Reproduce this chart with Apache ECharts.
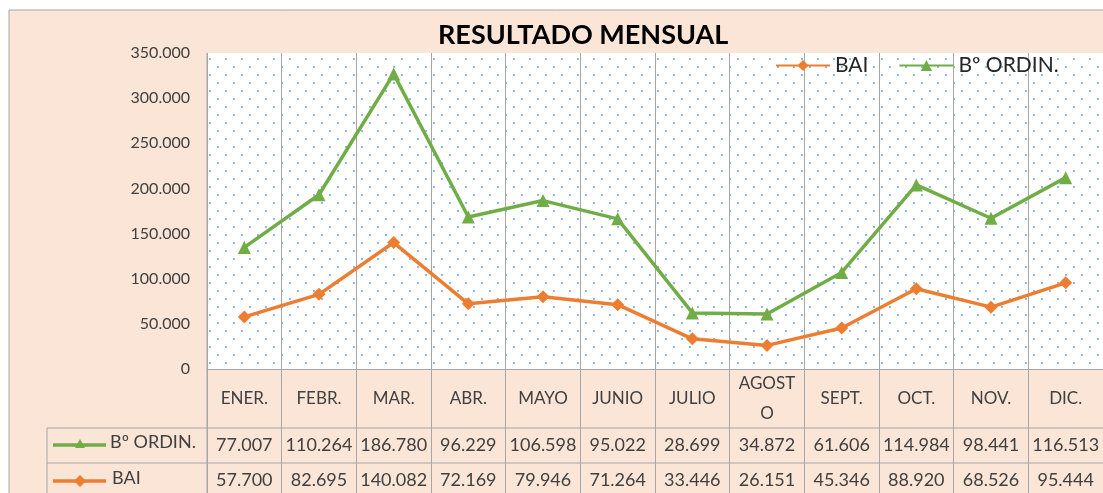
<!DOCTYPE html>
<html>
<head>
<meta charset="utf-8">
<script src="https://cdn.jsdelivr.net/npm/echarts@6/dist/echarts.min.js"></script>
<style>
  html, body { margin: 0; padding: 0; background: #fff; }
  #chart { width: 1103px; height: 493px; }
</style>
</head>
<body>
<div id="chart"></div>
<script>
const months = ['ENER.', 'FEBR.', 'MAR.', 'ABR.', 'MAYO', 'JUNIO', 'JULIO', 'AGOSTO', 'SEPT.', 'OCT.', 'NOV.', 'DIC.'];
const bai = [57700, 82695, 140082, 72169, 79946, 71264, 33446, 26151, 45346, 88920, 68526, 95444];
const ordin = [77007, 110264, 186780, 96229, 106598, 95022, 28699, 34872, 61606, 114984, 98441, 116513];
const yTicks = [0, 50000, 100000, 150000, 200000, 250000, 300000, 350000];

const FONT = 'Lato, "Open Sans", sans-serif';
const ORANGE = '#ED7D31';
const GREEN = '#70AD47';
const TEXT = '#404040';
const LINE = '#a6a6a6';

// thousands with a dot, like the spreadsheet
const fmt = (v) => v === 0 ? '0' : String(v).replace(/\B(?=(\d{3})+(?!\d))/g, '.');

// dotted plot background
const tile = document.createElement('canvas');
tile.width = 16;
tile.height = 16;
const tctx = tile.getContext('2d');
tctx.fillStyle = '#ffffff';
tctx.fillRect(0, 0, 16, 16);
tctx.fillStyle = '#8dbbe8';
tctx.fillRect(9, 2, 2, 2);
tctx.fillRect(1, 10, 2, 2);

const chart = echarts.init(document.getElementById('chart'));

const plotLeft = 207;
const plotTop = 53;
const plotBottom = 369;
const rowA = 428;
const rowB = 463;

chart.setOption({
  backgroundColor: '#fff',
  animation: false,
  textStyle: { fontFamily: FONT },
  title: {
    text: 'RESULTADO MENSUAL',
    left: 438,
    top: 22,
    textStyle: { fontFamily: FONT, fontWeight: 'bold', fontSize: 27, color: '#000' },
    padding: 0
  },
  legend: {
    left: 770,
    top: 50,
    itemWidth: 54,
    itemHeight: 14,
    itemGap: 30,
    textStyle: { fontFamily: FONT, fontSize: 21, color: '#262626' },
    data: ['BAI', 'Bº ORDIN.']
  },
  grid: {
    left: plotLeft,
    right: 0,
    top: plotTop,
    bottom: 493 - plotBottom,
    show: true,
    borderWidth: 0,
    backgroundColor: { image: tile, repeat: 'repeat' }
  },
  xAxis: {
    type: 'category',
    data: months,
    boundaryGap: true,
    axisLine: { show: true, lineStyle: { color: LINE, width: 1 } },
    axisTick: { show: true, length: 130, lineStyle: { color: LINE, width: 1 } },
    splitLine: { show: true, lineStyle: { color: LINE, width: 1 } },
    axisLabel: {
      interval: 0,
      margin: 0,
      formatter: (v, i) => {
        const head = v === 'AGOSTO' ? '{c2|AGOST}\n{c2|O}' : '{c|' + v + '}';
        return head + '\n{v|' + fmt(ordin[i]) + '}\n{v|' + fmt(bai[i]) + '}';
      },
      rich: {
        c: { fontFamily: FONT, fontSize: 17, color: TEXT, lineHeight: 59 },
        c2: { fontFamily: FONT, fontSize: 17, color: TEXT, lineHeight: 29.5 },
        v: { fontFamily: FONT, fontSize: 18, color: TEXT, lineHeight: 35 }
      }
    }
  },
  yAxis: {
    type: 'value',
    min: 0,
    max: 350000,
    interval: 50000,
    axisLine: { show: false },
    axisTick: { show: false },
    splitLine: { show: false },
    axisLabel: {
      margin: 17,
      fontFamily: FONT,
      fontSize: 16,
      color: TEXT,
      formatter: (v) => yTicks.includes(v) ? fmt(v) : ''
    }
  },
  series: [
    {
      name: 'BAI',
      type: 'line',
      stack: 'total',
      data: bai,
      symbol: 'diamond',
      symbolSize: 13,
      lineStyle: { color: ORANGE, width: 3.5 },
      itemStyle: { color: ORANGE },
      z: 3
    },
    {
      name: 'Bº ORDIN.',
      type: 'line',
      stack: 'total',
      data: ordin,
      symbol: 'triangle',
      symbolSize: 13,
      lineStyle: { color: GREEN, width: 3.5 },
      itemStyle: { color: GREEN },
      z: 4
    }
  ],
  graphic: [
    // peach chart area behind everything
    { type: 'rect', z: -10, silent: true, shape: { x: 9, y: 10, width: 1103, height: 490 },
      style: { fill: '#FBE5D6', stroke: '#a6a6a6', lineWidth: 1 } },
    // data table left column
    { type: 'line', shape: { x1: 47, y1: rowA, x2: 1103, y2: rowA }, style: { stroke: LINE, lineWidth: 1 } },
    { type: 'line', shape: { x1: 47, y1: rowB, x2: 1103, y2: rowB }, style: { stroke: LINE, lineWidth: 1 } },
    { type: 'line', shape: { x1: 47, y1: rowA, x2: 47, y2: 493 }, style: { stroke: LINE, lineWidth: 1 } },
    { type: 'line', shape: { x1: plotLeft, y1: plotTop, x2: plotLeft, y2: 493 }, style: { stroke: LINE, lineWidth: 1 } },
    // legend keys in the table
    { type: 'line', shape: { x1: 53, y1: 445, x2: 106, y2: 445 }, style: { stroke: GREEN, lineWidth: 3.5 } },
    { type: 'polygon', shape: { points: [[80, 439], [85, 448], [75, 448]] }, style: { fill: GREEN } },
    { type: 'text', left: 110, top: 433, style: { text: 'Bº ORDIN.', font: '18px ' + FONT, fill: TEXT } },
    { type: 'line', shape: { x1: 53, y1: 481, x2: 106, y2: 481 }, style: { stroke: ORANGE, lineWidth: 3.5 } },
    { type: 'polygon', shape: { points: [[80, 475], [86, 481], [80, 487], [74, 481]] }, style: { fill: ORANGE } },
    { type: 'text', left: 112, top: 469, style: { text: 'BAI', font: '18px ' + FONT, fill: TEXT } }
  ]
});
</script>
</body>
</html>
